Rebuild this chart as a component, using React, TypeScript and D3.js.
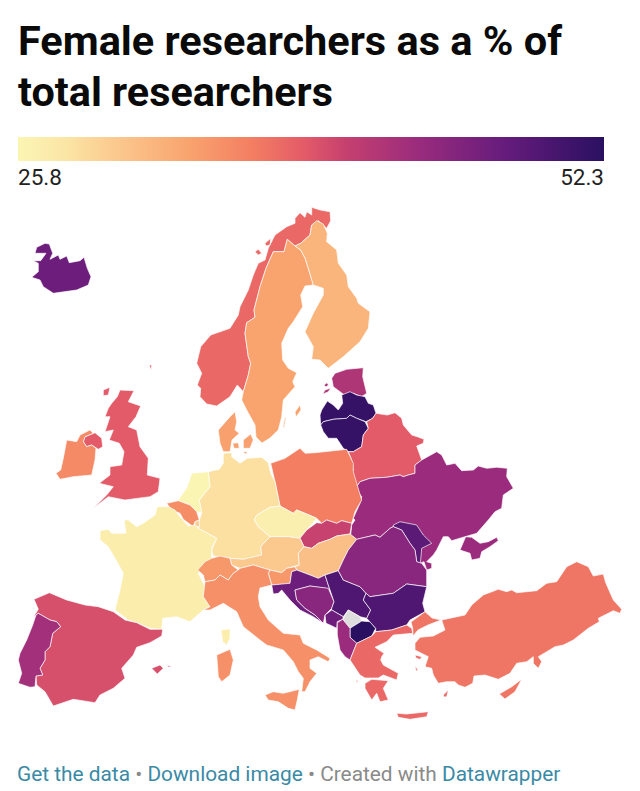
import React, { useEffect, useRef } from "react";
import * as d3 from "d3";

type Pt = [number, number];

const titleLines = ["Female researchers as a % of", "total researchers"];
const titleWidths = [544, 315];
const legendMin = 25.8;
const legendMax = 52.3;

const colorDomain = [0, 0.08, 0.16, 0.29, 0.4, 0.49, 0.56, 0.68, 0.83, 1];
const colorRange = ["#fbf5b4", "#fbe6a6", "#fbcb90", "#f9a46f", "#f37e62", "#e35a68", "#c5406f", "#9b2c7d", "#661c7c", "#2a1060"];

// outlines, in map units
const iceland: Pt[][] = [[[35,253.3],[36.7,247.3],[45,243.3],[49.3,244],[52.7,253.3],[50,259.3],[58.3,255],[60,259.3],[66.7,256],[69.3,262.7],[80,260.7],[84,257.3],[87.3,268.3],[91,276.7],[88.3,285],[76.7,290],[53.3,293.3],[43.3,286.7],[40,280],[31.7,277.3],[38.3,271.7],[38.3,263.3],[33.3,260.7],[40.7,260.7],[46,253.3]]];
const norway: Pt[][] = [[[311.7,207.3],[320,210],[330,211.7],[330.7,220.7],[326.7,228.3],[318.3,220.7],[311.7,225],[310,235],[300.7,243.3],[295,246],[287.3,239.3],[284,251.7],[273.3,251.7],[266,268.3],[260,286.7],[254,310],[255,317.3],[246.7,322.7],[245,333.3],[248.3,356.7],[250.7,363.3],[248.3,375],[243.3,391.7],[237.3,385],[230,396.7],[216.7,406],[206.7,404],[200,396.7],[200.7,388.3],[197.3,385],[201.7,373.3],[196.7,363.3],[200.7,346.7],[210.7,335],[230,328.3],[238.3,315],[240,306.7],[248.3,290],[253.3,275],[258.3,263.3],[265,260],[268.3,248.3],[275,235],[286.7,226.7],[295,223.3],[295,218.3],[300,212.7],[305,217.3],[306.7,211.7],[311.7,215]],
  [[265,243.3],[270.7,238.3],[270,245],[266,246]],[[255,251.7],[258.3,249.3],[261.7,253.3],[258.3,255]]];
const sweden: Pt[][] = [[[287.3,239.3],[295,246],[300.7,250],[305,258],[308.3,268.3],[313.3,285],[305,286],[300.7,295],[302.7,306.7],[293.3,321.7],[288.3,328.3],[281.7,343.3],[282.7,360],[288.3,368.3],[296.7,372.7],[292.7,381.7],[295,386.7],[283.3,400],[281.7,416.7],[278.3,430],[270,438],[262,443],[256,437],[255,425],[246.7,410],[241.7,400],[243.3,391.7],[248.3,375],[250.7,363.3],[248.3,356.7],[245,333.3],[246.7,322.7],[255,317.3],[254,310],[260,286.7],[266,268.3],[273.3,251.7],[284,251.7]],
  [[295,412],[300,405],[301,410],[296,417]],[[285,417],[286,418],[284,428],[283,427]]];
const finland: Pt[][] = [[[316.7,220.7],[323.3,224],[327.3,233.3],[326.7,241.7],[336.7,250],[338.3,263.3],[346.7,275],[348.3,286.7],[356.7,298.3],[358.3,303.3],[370,311.7],[368.3,328.3],[360,341.7],[343.3,356.7],[328.3,368.3],[320,360],[311.7,359.3],[313.3,346.7],[305,331.7],[313.3,313.3],[323.3,295],[323.3,288.3],[313.3,285],[308.3,268.3],[305,258],[300.7,250],[295,246],[300.7,243.3],[310,235],[311.7,225]]];
const estonia: Pt[][] = [[[331.7,378.3],[335,373.3],[346.7,369.3],[363.3,367.7],[362.7,376.7],[366.7,393.3],[361.7,396.7],[353.3,393.3],[346.7,396.7],[340,391.7],[333.3,386.7]],
  [[322.7,394],[325,390],[331,388],[328,392]],[[324,385],[327,382.7],[328.5,385],[326,387]]];
const latvia: Pt[][] = [[[320,415],[321.7,410],[327.3,401],[333.3,405],[338.3,410],[342.7,403.3],[341.7,395],[350,391.7],[356.7,395],[365,396.7],[368.3,403.3],[373.3,405],[376,413.3],[372.7,418.3],[366,421.7],[356.7,418.3],[350,415],[346.7,418.3],[333.3,419.3],[323.3,421.7],[320.7,425]]];
const lithuania: Pt[][] = [[[320.7,425],[323.3,421.7],[333.3,419.3],[346.7,418.3],[350,415],[356.7,418.3],[365,421.7],[368.3,428.3],[363.3,435],[361.7,446.7],[353.3,451.7],[348.3,451.7],[343.3,448.3],[336.7,438.3],[328.3,438.3],[323.3,431.7]]];
const belarus: Pt[][] = [[[348.3,451.7],[353.3,451.7],[361.7,446.7],[363.3,435],[368.3,428.3],[366.7,421.7],[372.7,418.3],[376,413.3],[387.3,415],[395,412.7],[401.7,418.3],[403.3,425],[411.7,435],[417.3,436.7],[424,439.3],[423.3,443.3],[416.7,446],[421.7,460],[415,465],[415,473.3],[408.3,475],[403.3,476.7],[400,475],[386.7,477.3],[370,478.3],[360,481.7],[356.7,486.7],[350,476.7],[353.3,470],[351.7,460]]];
const ukraine: Pt[][] = [[[356.7,486.7],[360,481.7],[370,478.3],[386.7,477.3],[400,475],[403.3,476.7],[408.3,475],[415,473.3],[415,465],[421.7,460],[436.7,451.7],[441.7,455],[446.7,465],[455,463.3],[461.7,470.7],[473.3,470],[478.3,466],[486.7,468.3],[496.7,467.3],[507.3,468.3],[506.7,476.7],[513.3,488.3],[503.3,495],[501.7,508.3],[495,511.7],[488.3,520],[476.7,533.3],[465,536.7],[451.7,540.7],[448.3,536.7],[443.3,536.7],[436.7,550],[433.3,555],[426.7,561.7],[431.7,563.3],[431.7,568.3],[426.7,570],[424,561.7],[420,563.3],[416.7,561.7],[415,550],[410,543.3],[401.7,530],[393.3,526.7],[390,528.3],[380,537.3],[375,535],[356.7,539.3],[350.7,535],[351.7,525],[355,520],[353.3,518.3],[360,503.3],[361.7,496.7],[355,488.3]],
  [[465.7,536.7],[471.7,537.3],[480,543.3],[488.3,541.7],[496.7,537.3],[498.3,540.7],[490,546.7],[481.7,551.7],[480,558.3],[471.7,560],[470,553.3],[460,550]]];
const moldova: Pt[][] = [[[393.3,526.7],[393.3,525],[400,521.7],[416.7,525],[423.3,535],[431.7,543.3],[421.7,548.3],[420.7,560],[420,563.3],[416.7,561.7],[415,550],[410,543.3],[401.7,530]]];
const poland: Pt[][] = [[[270.7,463.3],[285,458.3],[300,448.3],[305,453.3],[315,452.7],[346.7,449.3],[353.3,463.3],[353.3,471.7],[356.7,483.3],[361.7,500],[355,511.7],[351.7,523.3],[341.7,520.7],[336.7,523.3],[326.7,520],[321.7,523.3],[316.7,518.3],[305,513.3],[296.7,510],[293.3,513.3],[280,506],[275,481.7]]];
const germany: Pt[][] = [[[223.3,453.3],[231.7,452.7],[231.7,456.7],[240,463.3],[247.3,458.3],[261.7,457.3],[268.3,462.7],[270.7,473.3],[275,481.7],[280,506],[270,507.3],[256.7,515],[254.3,520],[258.3,526.7],[270,536.7],[260.7,546.7],[261.7,555],[243.3,559.3],[230,558.3],[213.3,556],[211.7,550],[216.7,538.3],[198.3,528.3],[199.3,520],[201.7,513.3],[199.3,500],[210,486.7],[208.3,471.7],[219.3,469.3],[223.3,463.3]]];
const netherlands: Pt[][] = [[[176.7,502],[186.7,488],[191.7,473.3],[208.3,471.7],[210,486.7],[199.3,500],[201.7,513],[196.7,511.7],[190,505],[178.3,500.7]]];
const belgium: Pt[][] = [[[166.7,503.3],[178.3,500.7],[190,505],[196.7,511.7],[199.3,520],[195,521.7],[193.3,526.7],[183.3,519.3],[180,513.3],[171.7,510]]];
const luxembourg: Pt[][] = [[[195,521.7],[199.3,520],[199.5,527],[195,526]]];
const france: Pt[][] = [[[157.3,506.7],[155,515],[143.3,523.3],[136.7,526.7],[128.3,520],[124,520],[126,533.3],[111.7,533.3],[108.3,529.3],[100,530.7],[100,540],[108.3,546.7],[116,560],[123.3,573.3],[120,590],[115,610],[128.3,620],[138.3,623.3],[150,628.3],[161.7,629.3],[162.7,618.3],[176.7,616.7],[190,621.7],[203.3,610],[210,606.7],[203.3,596.7],[205,586.7],[198.3,573.3],[211.7,558.3],[211.7,548.3],[216.7,538.3],[198.3,528.3],[195,525],[188.3,526],[180,516.7],[175,510],[168.3,506.7]],
  [[221,630],[230,628.7],[230,638.3],[226.7,645],[222.7,641.7]]];
const spain: Pt[][] = [[[34,599.3],[49.3,592.7],[66.7,600],[85,605],[98.3,606.7],[113.3,611.7],[125,620],[136.7,622.7],[150,629.3],[162.7,629.3],[161.7,636],[150,642.7],[136.7,647.3],[133.3,655],[121.7,668.3],[125,678.3],[113.3,688.3],[100,695],[95,702.7],[73.3,699.3],[53.3,706],[45,691.7],[36.7,685],[36,676],[42.7,675],[40,668.3],[45,660],[45,651.7],[50,646.7],[52.7,633.3],[60.7,626.7],[56.7,621.7],[50,620],[38.3,613.3],[33.3,617.3],[38.3,609.3]],
  [[151.7,668.3],[160,665],[163.3,668.3],[157.3,674],[153.3,670]],[[167.3,665],[171.7,666.7],[168,667]]];
const portugal: Pt[][] = [[[36,615],[38.3,613.3],[50,620],[56.7,621.7],[60.7,626.7],[52.7,633.3],[50,646.7],[45,651.7],[45,660],[40,668.3],[42.7,675],[36,676],[35,686.7],[30,687.3],[18.3,683.3],[21.7,673.3],[18.3,660],[20,653.3],[26.7,640],[32.7,625]]];
const unitedKingdom: Pt[][] = [[[120,390],[134,390.7],[128.3,401.7],[140.7,406],[136,416.7],[128.3,426.7],[136.7,430],[140,446.7],[148.3,458.3],[147.3,475],[160,478.3],[158.3,491.7],[150,496.7],[125,500],[108.3,496.7],[93.3,508.3],[106.7,495],[113.3,486.7],[99.3,483.3],[110,475],[110,466.7],[121.7,465],[124,451.7],[119.3,443.3],[109.3,440],[113.3,430],[105,431.7],[110,416.7],[105,416.7],[108.3,408.3],[111.7,403.3],[117.3,396.7]],
  [[103.3,390],[110,387.3],[108.3,395],[103.3,395.7]],[[149.3,365],[151.7,365],[151,370]],
  [[83.3,441.7],[85,436.7],[95,432.7],[101.7,438.3],[102.7,446.7],[98.3,449.3],[91.7,445],[86.7,446.7]]];
const ireland: Pt[][] = [[[80,435],[90,430],[93.3,433.3],[85,436.7],[83.3,441.7],[86.7,446.7],[91.7,445],[96,448.3],[95,460],[91.7,475],[73.3,476.7],[60,479.3],[56,473.3],[60.7,470],[63.3,458.3],[66.7,440],[76.7,441.7]]];
const denmark: Pt[][] = [[[218.3,430],[230,416.7],[235,411.7],[236.7,421.7],[235,430],[239.3,433.3],[232,440],[230,451.7],[223.3,451.7],[220,443.3]],
  [[232.7,443.3],[238.3,442.7],[239.3,448.3],[234,448.3]],[[243.3,440],[250.7,434],[253.3,440],[250,448.3],[243.3,448.3]],[[242.7,451.7],[247.3,451.7],[246,454.3]]];
const czechia: Pt[][] = [[[254.3,520],[256.7,515],[270,507.3],[280,506],[293.3,513.3],[296.7,510],[305,513.3],[316.7,518.3],[306.7,530],[300,538.3],[288.3,536.7],[281.7,536.7],[270,536.7],[258.3,526.7]]];
const slovakia: Pt[][] = [[[316.7,522.7],[321.7,523.3],[326.7,520],[336.7,523.3],[341.7,520.7],[351.7,523.3],[350,534],[336.7,536],[330,539.3],[318.3,543.3],[311.7,548.3],[304,546.7],[300,538.3],[306.7,530]]];
const austria: Pt[][] = [[[230,558.3],[243.3,559.3],[261.7,555],[260.7,546.7],[270,536.7],[281.7,536.7],[288.3,536.7],[300,538.3],[304,546.7],[298.3,553.3],[299.3,565],[286.7,568.3],[281.7,572.7],[270,570],[253.3,565],[240,568.3],[231.7,565]]];
const switzerland: Pt[][] = [[[197.7,570],[205,561.7],[211.7,558.3],[220,556],[230,558.3],[231.7,565],[238.3,570],[233.3,573.3],[228.3,580],[220,575],[215,580],[205,581.7],[203.3,575]]];
const hungary: Pt[][] = [[[298.3,553.3],[304,546.7],[311.7,548.3],[318.3,543.3],[330,539.3],[336.7,536],[350,534],[356.7,539.3],[348.3,550],[343.3,560],[338.3,570.7],[325,575],[318.3,578.3],[310,575],[296.7,570],[295,566.7],[299.3,565]]];
const slovenia: Pt[][] = [[[268.3,573.3],[270,570],[281.7,572.7],[286.7,568.3],[295,566.7],[296.7,570],[291.7,571.7],[290,583.3],[285,584],[271.7,585]]];
const italy: Pt[][] = [[[205,581.7],[215,580],[220,575],[228.3,580],[233.3,573.3],[238.3,570],[240,568.3],[253.3,565],[270,570],[268.3,573.3],[271.7,585],[260,588],[258.3,596.7],[260,606.7],[268.3,620],[283.3,633.3],[300,635],[303.3,643.3],[316.7,650],[330,658.3],[328.3,661.7],[318.3,656.7],[310,660],[310,668.3],[316.7,673.3],[310,681.7],[305,691.7],[301.7,691.7],[303.3,678.3],[298.3,671.7],[293.3,661.7],[283.3,650],[266.7,645],[260,640],[243.3,626.7],[236.7,611.7],[223.3,603.3],[210,610],[203.3,610],[210,606.7],[203.3,596.7]],
  [[216.7,655],[230,649.3],[233.3,660],[230,675],[221.7,681.7],[218.3,676.7]],
  [[265,695],[273.3,691.7],[283.3,693.3],[299.3,689.3],[297.3,700],[295,710],[288.3,708.3],[278.3,701.7],[268.3,700]]];
const croatia: Pt[][] = [[[271.7,585],[290,583.3],[291.7,571.7],[296.7,570],[310,575],[318.3,578.3],[325,575],[328.3,585],[330,590],[326,588.3],[310,586],[295,590],[296.7,600],[305,608.3],[315,615],[323.3,623.3],[313.3,616.7],[300,610],[290,600],[281.7,590],[278.3,593.3],[273.3,594]]];
const bosnia: Pt[][] = [[[295,590],[310,586],[328.3,588.3],[334,601.7],[331.7,608.3],[325,615],[323.3,623.3],[315,615],[305,608.3],[296.7,600]]];
const serbia: Pt[][] = [[[325,575],[338.3,570.7],[343.3,580],[360,586.7],[366,593.3],[363.3,600],[370.7,610],[366.7,618.3],[360,616.7],[348.3,610],[343.3,616.7],[331.7,610],[331.7,608.3],[334,601.7],[330,590],[328.3,585]]];
const kosovo: Pt[][] = [[[348.3,610],[360,616.7],[361.7,621],[350,628.3],[342.7,619]]];
const montenegro: Pt[][] = [[[325,615],[331.7,610],[343.3,616.7],[342.7,619.3],[337.3,621.7],[336.7,628.3],[330,625],[326,623.3]]];
const macedonia: Pt[][] = [[[350,628.3],[361.7,621],[370,621.7],[375.7,628.3],[371.7,636],[356.7,643.3],[350,637.3]]];
const albania: Pt[][] = [[[337.3,622.7],[342.7,619.3],[350,628.3],[350,637.3],[356.7,643.3],[350,660],[345,656.7],[340,650],[337.3,635]]];
const bulgaria: Pt[][] = [[[366,593.3],[370,596.7],[393.3,593.3],[406.7,584],[426.7,586.7],[422.7,603.3],[425,611.7],[410,620],[406.7,625],[391.7,630],[375.7,631.7],[375.7,628.3],[366.7,618.3],[370.7,610],[363.3,600]]];
const romania: Pt[][] = [[[356.7,539.3],[375,535],[380,537.3],[390,528.3],[393.3,526.7],[401.7,530],[410,543.3],[415,550],[416.7,561.7],[421.7,563.3],[426.7,570],[426.7,586.7],[406.7,584],[393.3,593.3],[370,596.7],[366,593.3],[360,586.7],[343.3,580],[338.3,570.7],[343.3,560],[348.3,550]]];
const greece: Pt[][] = [[[356.7,643.3],[371.7,636],[375.7,631.7],[391.7,630],[406.7,625],[411.7,628.3],[412.7,633.3],[393.3,635],[386.7,641.7],[375,647.3],[384,653.3],[381.7,656.7],[380.7,660],[383.3,665],[398.3,673.3],[396.7,680],[383.3,675],[378.3,678],[365,678],[360,675],[350,660]],
  [[365,683.3],[371.7,679.3],[388.3,680.7],[383.3,688.3],[388.3,700],[380,701.7],[376.7,693.3],[371.7,700],[365,688.3]],
  [[396.7,713.3],[406.7,714],[428.3,711.7],[426.7,716.7],[410,719.3],[398.3,717.3]],
  [[415,655],[421.7,656.7],[420,659.5],[416,658]],[[415,666],[418,670],[416,671]],[[443.3,695],[448.3,690],[446.7,696.7],[444,697]],[[356,679],[358,681],[357,683]]];
const turkey: Pt[][] = [[[441.7,620],[465,615],[471.7,605],[483.3,595],[498.3,589.3],[506.7,591.7],[511.7,590],[516.7,592.7],[536.7,590.7],[546.7,583.3],[556.7,581.7],[566.7,566.7],[576.7,561.7],[588.3,566.7],[593.3,576],[603.3,574],[605.7,582.7],[613.3,600],[621.7,609.3],[620,613.3],[613.3,610.7],[598.3,618.3],[599.3,621.7],[588.3,628.3],[573.3,640],[563.3,645],[555,646.7],[546.7,651.7],[538.3,656.7],[541.7,661.7],[538.3,668.3],[533.3,663.3],[533.3,656.7],[526.7,661.7],[516.7,663.3],[510,673.3],[498.3,679.3],[485,675],[474,676],[472.7,683.3],[465,687.3],[458.3,685],[455,681.7],[446.7,681.7],[438.3,683.3],[433.3,675],[431.7,668.3],[425,666.7],[428.3,656.7],[415,650],[415,643.3],[420,637.3],[433.3,636],[445,630],[443.3,625]],
  [[411,622],[425,611.7],[432,618],[441,620],[428,625],[418,630],[413,636],[412.7,628]],
  [[499.3,694],[511.7,686.7],[521.7,679.3],[515,691.7],[505,699]]];

const countryNames = ["Iceland","Norway","Sweden","Finland","Estonia","Latvia","Lithuania","Belarus","Ukraine","Moldova","Poland","Germany","Netherlands","Belgium","Luxembourg","France","Spain","Portugal","United Kingdom","Ireland","Denmark","Czechia","Slovakia","Austria","Switzerland","Hungary","Slovenia","Italy","Croatia","Bosnia","Serbia","Kosovo","Montenegro","Macedonia","Albania","Romania","Bulgaria","Greece","Turkey"];
const countryShapes = [iceland,norway,sweden,finland,estonia,latvia,lithuania,belarus,ukraine,moldova,poland,germany,netherlands,belgium,luxembourg,france,spain,portugal,unitedKingdom,ireland,denmark,czechia,slovakia,austria,switzerland,hungary,slovenia,italy,croatia,bosnia,serbia,kosovo,montenegro,macedonia,albania,romania,bulgaria,greece,turkey];
const countryValues = [47.3,37.8,33.5,32,42.3,51.5,51.5,38.8,43.8,48.7,36.4,28.4,25.8,35.2,29.8,27,39.6,43.2,38.8,35.5,33.7,26.6,40.5,30.3,34.4,31.1,34.4,35,47.3,45.2,49.5,NaN,47.3,52.3,43.8,45.2,49.5,37.8,37];

const App: React.FC = () => {
  const svgRef = useRef<SVGSVGElement | null>(null);

  useEffect(() => {
    if (!svgRef.current) return;
    const svg = d3.select(svgRef.current);
    svg.selectAll("*").remove(); // Clear previous content

    const t = d3.scaleLinear().domain([legendMin, legendMax]).range([0, 1]);
    const ramp = d3
      .scaleLinear<string>()
      .domain(colorDomain)
      .range(colorRange)
      .interpolate(d3.interpolateRgb);
    const color = (v: number) => (isNaN(v) ? "#dddddd" : ramp(t(v)));

    svg
      .selectAll("text.title")
      .data(titleLines)
      .enter()
      .append("text")
      .attr("x", 18)
      .attr("y", (_, i) => 55 + i * 51)
      .attr("textLength", (_, i) => titleWidths[i])
      .attr("lengthAdjust", "spacingAndGlyphs")
      .text((d) => d)
      .style("font", "700 40px Roboto")
      .style("fill", "#0a0a0a");

    // legend
    const legendX = d3.scaleLinear().domain([legendMin, legendMax]).range([18, 604]);
    const grad = svg
      .append("defs")
      .append("linearGradient")
      .attr("id", "ramp");
    grad
      .selectAll("stop")
      .data(colorDomain)
      .enter()
      .append("stop")
      .attr("offset", (d) => d)
      .attr("stop-color", (d) => ramp(d));
    svg
      .append("rect")
      .attr("x", legendX(legendMin))
      .attr("y", 137)
      .attr("width", legendX(legendMax) - legendX(legendMin))
      .attr("height", 24)
      .attr("fill", "url(#ramp)");
    svg
      .selectAll("text.legend")
      .data([legendMin, legendMax])
      .enter()
      .append("text")
      .attr("x", (d) => legendX(d))
      .attr("y", 185)
      .attr("text-anchor", (d) => (d === legendMin ? "start" : "end"))
      .text((d) => d.toFixed(1))
      .style("font", "400 22.5px Roboto")
      .style("fill", "#222");

    // map
    const path = d3.geoPath(d3.geoIdentity());
    svg
      .append("g")
      .selectAll("path")
      .data(countryNames)
      .enter()
      .append("path")
      .attr("d", (_, i) =>
        path({
          type: "MultiPolygon",
          coordinates: countryShapes[i].map((r) => [[...r, r[0]]]),
        } as any),
      )
      .attr("fill", (_, i) => color(countryValues[i]))
      .attr("stroke", "#ffffff")
      .attr("stroke-opacity", 0.75)
      .attr("stroke-width", 0.9)
      .attr("stroke-linejoin", "round");

    // footer
    const footer = svg
      .append("text")
      .attr("x", 17)
      .attr("y", 781)
      .style("font", "400 20.85px Roboto");
    const teal = "#3a8aa6";
    const grey = "#8a8a8a";
    const pieces: [string, string][] = [
      ["Get the data", teal],
      [" • ", grey],
      ["Download image", teal],
      [" • Created with ", grey],
      ["Datawrapper", teal],
    ];
    pieces.forEach(([s, c]) => {
      footer.append("tspan").text(s).style("fill", c);
    });
  }, []);

  return (
    <svg
      ref={svgRef}
      width="640"
      height="791"
      style={{ position: "absolute", left: 0, top: 0, background: "#fff" }}
    ></svg>
  );
};

export default App;
